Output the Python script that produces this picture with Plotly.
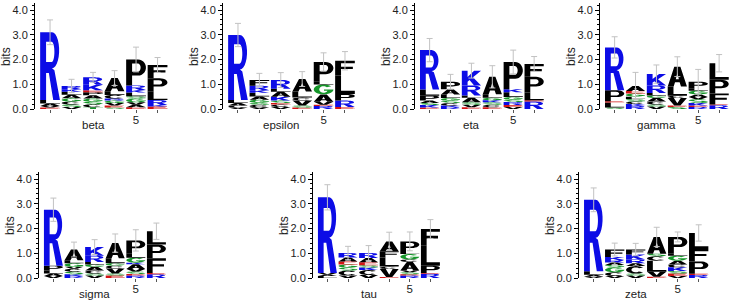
import math
import plotly.graph_objects as go

# ---------------- data ----------------
panel_names = ["beta", "epsilon", "eta", "gamma", "sigma", "tau", "zeta"]
positions = [1, 2, 3, 4, 5, 6]
tick_text = ["", "", "", "", "5", ""]

# each column: (letter, bits) from bottom to top
beta = [
    [("E", 0.06), ("V", 0.06), ("A", 0.10), ("L", 0.14), ("R", 2.74)],
    [("V", 0.08), ("S", 0.10), ("C", 0.12), ("G", 0.13), ("A", 0.15), ("L", 0.12), ("K", 0.10), ("R", 0.13)],
    [("T", 0.07), ("C", 0.12), ("S", 0.10), ("G", 0.13), ("A", 0.14), ("P", 0.12), ("E", 0.08), ("K", 0.22), ("R", 0.30)],
    [("S", 0.06), ("E", 0.08), ("V", 0.10), ("G", 0.10), ("R", 0.08), ("C", 0.15), ("L", 0.15), ("A", 0.53)],
    [("E", 0.07), ("A", 0.10), ("V", 0.10), ("G", 0.15), ("S", 0.10), ("L", 0.15), ("K", 0.10), ("R", 0.18), ("P", 1.05)],
    [("E", 0.10), ("K", 0.06), ("R", 0.20), ("L", 0.34), ("P", 0.54), ("F", 0.54)],
]
beta_err = [0.50, 0.27, 0.20, 0.30, 0.50, 0.30]

epsilon = [
    [("V", 0.06), ("C", 0.08), ("A", 0.10), ("L", 0.12), ("R", 2.63)],
    [("V", 0.07), ("C", 0.10), ("S", 0.08), ("G", 0.12), ("A", 0.14), ("L", 0.15), ("K", 0.10), ("R", 0.18), ("F", 0.23)],
    [("V", 0.08), ("C", 0.10), ("E", 0.06), ("S", 0.10), ("K", 0.16), ("A", 0.20), ("L", 0.12), ("R", 0.35)],
    [("E", 0.06), ("S", 0.08), ("V", 0.20), ("C", 0.12), ("L", 0.25), ("A", 0.50)],
    [("R", 0.12), ("E", 0.05), ("V", 0.12), ("A", 0.30), ("G", 0.40), ("L", 0.11), ("P", 0.80)],
    [("E", 0.08), ("R", 0.26), ("P", 0.27), ("L", 0.74), ("F", 0.60)],
]
epsilon_err = [0.47, 0.27, 0.30, 0.30, 0.37, 0.37]

eta = [
    [("E", 0.06), ("K", 0.10), ("S", 0.08), ("A", 0.10), ("P", 0.20), ("L", 0.25), ("R", 1.59)],
    [("R", 0.08), ("K", 0.06), ("C", 0.10), ("S", 0.10), ("G", 0.10), ("L", 0.15), ("A", 0.21), ("P", 0.30)],
    [("E", 0.07), ("V", 0.10), ("S", 0.10), ("A", 0.18), ("L", 0.10), ("R", 0.40), ("K", 0.60)],
    [("E", 0.07), ("C", 0.10), ("S", 0.10), ("K", 0.08), ("G", 0.10), ("L", 0.15), ("A", 0.70)],
    [("V", 0.08), ("E", 0.08), ("R", 0.12), ("S", 0.10), ("G", 0.10), ("L", 0.20), ("K", 0.12), ("P", 1.10)],
    [("R", 0.30), ("E", 0.05), ("L", 0.32), ("P", 0.63), ("F", 0.52)],
]
eta_err = [0.47, 0.30, 0.30, 0.45, 0.48, 0.30]

gamma = [
    [("S", 0.06), ("L", 0.20), ("E", 0.05), ("P", 0.45), ("R", 1.73)],
    [("R", 0.12), ("K", 0.08), ("C", 0.10), ("S", 0.10), ("L", 0.10), ("G", 0.13), ("E", 0.10), ("A", 0.20)],
    [("V", 0.10), ("S", 0.08), ("C", 0.12), ("A", 0.15), ("G", 0.10), ("L", 0.10), ("R", 0.30), ("K", 0.46)],
    [("S", 0.08), ("E", 0.06), ("V", 0.30), ("C", 0.10), ("L", 0.37), ("A", 0.80)],
    [("R", 0.08), ("E", 0.06), ("K", 0.10), ("S", 0.15), ("V", 0.10), ("A", 0.10), ("G", 0.15), ("L", 0.10), ("P", 0.26)],
    [("R", 0.15), ("E", 0.03), ("F", 0.45), ("P", 0.55), ("L", 0.67)],
]
gamma_err = [0.43, 0.55, 0.37, 0.40, 0.50, 0.35]

sigma = [
    [("V", 0.08), ("A", 0.10), ("L", 0.12), ("P", 0.20), ("R", 2.26)],
    [("R", 0.08), ("K", 0.07), ("S", 0.10), ("C", 0.12), ("V", 0.08), ("G", 0.15), ("L", 0.12), ("A", 0.43)],
    [("V", 0.10), ("S", 0.08), ("C", 0.12), ("A", 0.15), ("G", 0.10), ("L", 0.10), ("R", 0.25), ("K", 0.35)],
    [("E", 0.10), ("S", 0.08), ("V", 0.20), ("C", 0.12), ("G", 0.10), ("L", 0.20), ("A", 0.61)],
    [("R", 0.10), ("E", 0.06), ("S", 0.10), ("V", 0.10), ("A", 0.20), ("K", 0.06), ("G", 0.20), ("L", 0.18), ("P", 0.52)],
    [("R", 0.15), ("E", 0.05), ("F", 0.60), ("P", 0.55), ("L", 0.54)],
]
sigma_err = [0.47, 0.30, 0.30, 0.37, 0.43, 0.33]

tau = [
    [("L", 0.08), ("A", 0.05), ("V", 0.07), ("R", 3.06)],
    [("V", 0.10), ("C", 0.20), ("S", 0.12), ("G", 0.13), ("E", 0.12), ("A", 0.16), ("R", 0.18)],
    [("V", 0.12), ("C", 0.20), ("K", 0.10), ("S", 0.10), ("E", 0.12), ("A", 0.17), ("R", 0.20)],
    [("E", 0.04), ("V", 0.32), ("C", 0.10), ("L", 0.37), ("F", 0.25), ("A", 0.40)],
    [("R", 0.10), ("E", 0.05), ("S", 0.08), ("V", 0.07), ("A", 0.35), ("C", 0.10), ("G", 0.22), ("L", 0.08), ("P", 0.43)],
    [("R", 0.17), ("E", 0.03), ("P", 0.30), ("L", 0.80), ("F", 0.68)],
]
tau_err = [0.51, 0.27, 0.30, 0.37, 0.38, 0.38]

zeta = [
    [("V", 0.05), ("A", 0.08), ("L", 0.14), ("R", 2.89)],
    [("V", 0.08), ("C", 0.15), ("G", 0.20), ("S", 0.10), ("A", 0.10), ("R", 0.10), ("K", 0.12), ("F", 0.30)],
    [("V", 0.10), ("S", 0.08), ("C", 0.30), ("A", 0.12), ("R", 0.15), ("K", 0.20), ("F", 0.20)],
    [("E", 0.05), ("V", 0.20), ("L", 0.45), ("C", 0.18), ("S", 0.10), ("A", 0.68)],
    [("V", 0.08), ("E", 0.10), ("S", 0.10), ("K", 0.15), ("C", 0.12), ("A", 0.15), ("G", 0.20), ("L", 0.10), ("P", 0.66)],
    [("R", 0.12), ("E", 0.05), ("P", 0.50), ("F", 0.50), ("L", 0.65)],
]
zeta_err = [0.48, 0.26, 0.25, 0.39, 0.20, 0.33]

panels = [beta, epsilon, eta, gamma, sigma, tau, zeta]
panel_errs = [beta_err, epsilon_err, eta_err, gamma_err, sigma_err, tau_err, zeta_err]

# ---------------- style ----------------
COLORS = {}
for c in "RKH":
    COLORS[c] = "#0c0ce6"
for c in "DE":
    COLORS[c] = "#d41414"
for c in "GSTY":
    COLORS[c] = "#16962a"
for c in "NQ":
    COLORS[c] = "#b01cb0"
for c in "AVLIPWFMC":
    COLORS[c] = "#000000"


def arc(cx, cy, rx, ry, a0, a1, n=14):
    pts = []
    for i in range(n):
        a = math.radians(a0 + (a1 - a0) * i / (n - 1))
        pts.append((cx + rx * math.cos(a), cy + ry * math.sin(a)))
    return pts


def s_glyph():
    c1, c2 = 0.715, 0.285
    R_, r_ = 0.285, 0.145
    pts = []
    pts += arc(0.5, c1, 0.5, R_, 30, 270, 16)
    pts += arc(0.5, c2, 0.21, r_, 90, -150, 16)
    pts += arc(0.5, c2, 0.5, R_, -150, 90, 16)
    pts += arc(0.5, c1, 0.21, r_, 270, 30, 16)
    return [pts]


GLYPHS = {
    "R": [
        [(0, 0), (0, 1), (0.6, 1)] + arc(0.6, 0.735, 0.36, 0.265, 90, -90)
        + [(0.72, 0.44), (1.0, 0.0), (0.66, 0.0), (0.44, 0.4), (0.3, 0.4), (0.3, 0)],
        [(0.3, 0.56), (0.3, 0.86)] + arc(0.58, 0.71, 0.14, 0.15, 90, -90),
    ],
    "P": [
        [(0, 0), (0, 1), (0.6, 1)] + arc(0.6, 0.69, 0.4, 0.31, 90, -90) + [(0.3, 0.38), (0.3, 0)],
        [(0.3, 0.53), (0.3, 0.85)] + arc(0.58, 0.69, 0.15, 0.16, 90, -90),
    ],
    "D": [
        [(0, 0), (0, 1), (0.45, 1)] + arc(0.45, 0.5, 0.55, 0.5, 90, -90),
        [(0.3, 0.17), (0.3, 0.83)] + arc(0.45, 0.5, 0.27, 0.33, 90, -90),
    ],
    "A": [
        [(0, 0), (0.34, 1), (0.66, 1), (1, 0), (0.69, 0), (0.62, 0.21), (0.38, 0.21), (0.31, 0)],
        [(0.42, 0.36), (0.58, 0.36), (0.5, 0.68)],
    ],
    "K": [[(0, 0), (0, 1), (0.3, 1), (0.3, 0.58), (0.64, 1), (1, 1), (0.58, 0.55), (1, 0),
           (0.64, 0), (0.4, 0.37), (0.3, 0.26), (0.3, 0)]],
    "F": [[(0, 0), (0, 1), (1, 1), (1, 0.83), (0.3, 0.83), (0.3, 0.6), (0.9, 0.6), (0.9, 0.44),
           (0.3, 0.44), (0.3, 0)]],
    "E": [[(0, 0), (0, 1), (0.97, 1), (0.97, 0.83), (0.3, 0.83), (0.3, 0.59), (0.9, 0.59),
           (0.9, 0.43), (0.3, 0.43), (0.3, 0.17), (1, 0.17), (1, 0)]],
    "L": [[(0, 0), (0, 1), (0.3, 1), (0.3, 0.17), (1, 0.17), (1, 0)]],
    "T": [[(0.35, 0), (0.35, 0.83), (0, 0.83), (0, 1), (1, 1), (1, 0.83), (0.65, 0.83), (0.65, 0)]],
    "I": [[(0.32, 0), (0.32, 1), (0.68, 1), (0.68, 0)]],
    "H": [[(0, 0), (0, 1), (0.3, 1), (0.3, 0.6), (0.7, 0.6), (0.7, 1), (1, 1), (1, 0), (0.7, 0),
           (0.7, 0.43), (0.3, 0.43), (0.3, 0)]],
    "V": [[(0, 1), (0.32, 1), (0.5, 0.3), (0.68, 1), (1, 1), (0.66, 0), (0.34, 0)]],
    "N": [[(0, 0), (0, 1), (0.3, 1), (0.7, 0.42), (0.7, 1), (1, 1), (1, 0), (0.7, 0), (0.3, 0.58), (0.3, 0)]],
    "C": [arc(0.5, 0.5, 0.5, 0.5, 40, 320, 24) + arc(0.5, 0.5, 0.22, 0.33, 320, 40, 20)],
    "G": [arc(0.5, 0.5, 0.5, 0.5, 40, 360, 24) + [(0.52, 0.5), (0.52, 0.36)]
          + arc(0.5, 0.5, 0.22, 0.33, 335, 40, 18)],
    "S": s_glyph(),
}

LETTER_W = 0.92


def glyph_path(letter, xc, y0, h):
    x0 = xc - LETTER_W / 2
    parts = []
    for contour in GLYPHS[letter]:
        pts = [(x0 + px * LETTER_W, y0 + py * h) for px, py in contour]
        parts.append("M" + "L".join(f"{x:.4f},{y:.4f}" for x, y in pts) + "Z")
    return "".join(parts)


# panel placement (pixels)
FIG_W, FIG_H = 733, 303
x_left = [35, 223, 415, 600, 39, 313, 579]
x_scale = [21.5, 21.4, 20.9, 20.9, 20.6, 20.6, 21.0]
X_RANGE = [0.3, 6.6]
Y_RANGE = [0, 4.3]
row_of = [0, 0, 0, 0, 1, 1, 1]
row_y = [(2.6, 109.0), (171.6, 278.0)]  # top, bottom pixels

FONT = "Liberation Sans, Arial, sans-serif"

fig = go.Figure()
shapes = []
annotations = []
layout_axes = {}

for i, (name, cols, errs) in enumerate(zip(panel_names, panels, panel_errs)):
    n = i + 1
    xa = "x" if n == 1 else f"x{n}"
    ya = "y" if n == 1 else f"y{n}"
    xkey = "xaxis" if n == 1 else f"xaxis{n}"
    ykey = "yaxis" if n == 1 else f"yaxis{n}"

    L = x_left[i]
    W = (X_RANGE[1] - X_RANGE[0]) * x_scale[i]
    top, bot = row_y[row_of[i]]

    layout_axes[xkey] = dict(
        domain=[L / FIG_W, min(1.0, (L + W) / FIG_W)], range=X_RANGE, anchor=ya,
        showline=False, showgrid=False, zeroline=False, automargin=False,
        tickmode="array", tickvals=positions, ticktext=tick_text,
        ticks="outside", ticklen=3, tickcolor="#555", tickwidth=1,
        ticklabelstandoff=-3,
        tickfont=dict(family=FONT, size=11.5, color="#222"),
        fixedrange=True,
    )
    layout_axes[ykey] = dict(
        domain=[(FIG_H - bot) / FIG_H, (FIG_H - top) / FIG_H], range=Y_RANGE, anchor=xa,
        showline=True, linecolor="#000", linewidth=1, showgrid=False, zeroline=False, automargin=False,
        tickmode="linear", tick0=0, dtick=1, tickformat=".1f",
        ticks="outside", ticklen=4, tickcolor="#000", tickwidth=1,
        minor=dict(ticks="outside", ticklen=2.5, dtick=0.2, tick0=0, tickcolor="#000", tickwidth=1, showgrid=False),
        tickfont=dict(family=FONT, size=11, color="#222"),
        fixedrange=True,
    )

    totals = []
    for pos, col in zip(positions, cols):
        base = 0.0
        for letter, h in col:
            shapes.append(dict(
                type="path", path=glyph_path(letter, pos, base, h),
                xref=xa, yref=ya, fillcolor=COLORS[letter],
                line=dict(width=0), fillrule="evenodd", layer="below",
            ))
            base += h
        totals.append(base)

    fig.add_trace(go.Scatter(
        x=positions, y=totals, mode="markers",
        marker=dict(size=2, color="rgba(0,0,0,0)"),
        error_y=dict(type="data", array=errs, symmetric=True, color="#c2c2c2", thickness=1, width=3),
        xaxis=xa, yaxis=ya, hoverinfo="skip", showlegend=False,
    ))

    annotations.append(dict(
        text="bits", xref=f"{xa} domain", yref=ya, x=0, y=2.1, xshift=-29,
        textangle=-90, showarrow=False, xanchor="center", yanchor="middle",
        font=dict(family=FONT, size=12, color="#222"),
    ))
    annotations.append(dict(
        text=name, xref=xa, yref=f"{ya} domain", x=3.0, y=0, yshift=-16,
        showarrow=False, xanchor="center", yanchor="middle",
        font=dict(family=FONT, size=11.5, color="#222"),
    ))

fig.update_layout(
    width=FIG_W, height=FIG_H,
    margin=dict(l=0, r=0, t=0, b=0),
    paper_bgcolor="white", plot_bgcolor="white",
    showlegend=False,
    shapes=shapes, annotations=annotations,
    **layout_axes,
)

fig.write_html(
    "out.html",
    config={"displayModeBar": False},
    post_script="document.body.style.margin='0';document.body.style.padding='0';",
)
